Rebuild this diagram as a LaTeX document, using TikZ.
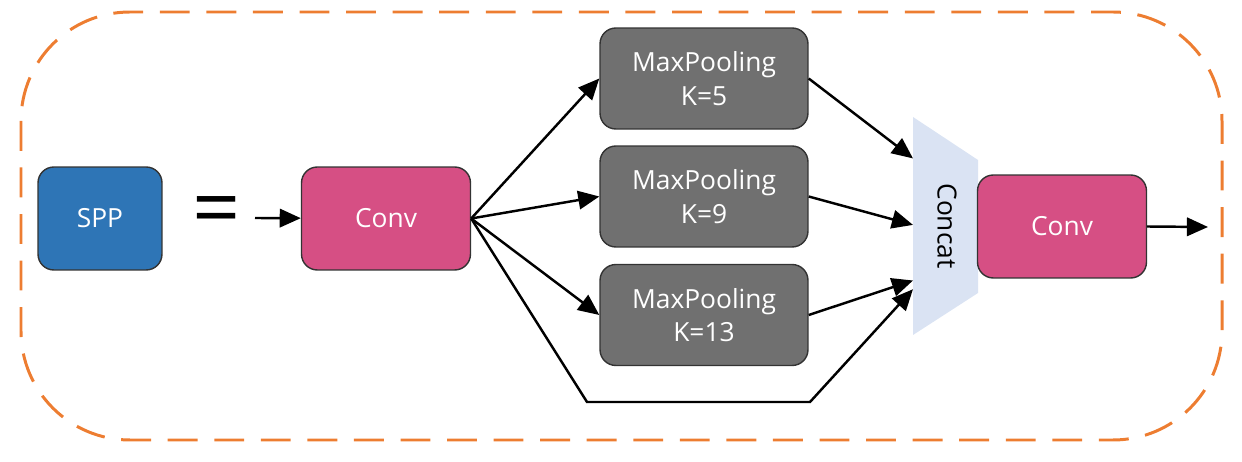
\documentclass[tikz,border=0pt]{standalone}
\usepackage{fontspec}
\setmainfont{Open Sans}
\usetikzlibrary{arrows.meta,positioning,calc}
\definecolor{sppblue}{HTML}{2E75B6}
\definecolor{convpink}{HTML}{D64F84}
\definecolor{poolgray}{HTML}{707070}
\definecolor{catblue}{HTML}{DAE3F3}
\definecolor{frameorange}{HTML}{ED7D31}
\tikzset{
  blk/.style={draw=black!80, line width=0.8pt, rounded corners=9pt, align=center, text=white, font=\fontsize{15}{19}\selectfont},
  conv/.style={blk, fill=convpink, minimum width=3.38cm, minimum height=2.06cm},
  pool/.style={blk, fill=poolgray, minimum width=4.16cm, minimum height=2.02cm},
  arr/.style={-{Triangle[length=12pt, width=10.5pt]}, line width=1.4pt}
}

\begin{document}
\begin{tikzpicture}[x=0.02cm, y=-0.02cm]
  \useasboundingbox (0,0) rectangle (1242,462);
  % outer frame
  \draw[frameorange, line width=1.7pt, dash pattern=on 17pt off 9.5pt, rounded corners=62pt] (21,12) rectangle (1222,440);
  \node[blk, fill=sppblue, minimum width=2.48cm, minimum height=2.06cm] (spp) at (100,218.5) {SPP};
  \node[font=\fontsize{48}{48}\selectfont, inner sep=0pt] (eq) at (217,217) {=};
  \coordinate (in) at (255,218);
  \node[conv] (c1) at (386,218.5) {Conv};
  \node[pool] (mp1) at (704,78.5) {MaxPooling\\K=5};
  \node[pool] (mp2) at (704,196.5) {MaxPooling\\K=9};
  \node[pool] (mp3) at (704,315) {MaxPooling\\K=13};
  % concat block
  \coordinate (ctl) at (913,117);
  \coordinate (cbl) at (913,335);
  \coordinate (ctr) at (978,160);
  \coordinate (cbr) at (978,293);
  \fill[catblue] (ctl) -- (ctr) -- (cbr) -- (cbl) -- cycle;
  \node[rotate=-90, font=\fontsize{15}{19}\selectfont] (cat) at (947,226) {Concat};
  \node[conv] (c2) at (1062,226.5) {Conv};
  \coordinate (out) at (1208,227);
  \coordinate (byl) at (587,402);
  \coordinate (byr) at (810,402);
  \draw[arr] (in) -- (c1);
  \draw[arr] (c1.east) -- (mp1.west);
  \draw[arr] (c1.east) -- (mp2.west);
  \draw[arr] (c1.east) -- (mp3.west);
  \draw[arr] (c1.east) -- (byl) -- (byr) -- ($(ctl)!0.79!(cbl)$);
  \draw[arr] (mp1.east) -- ($(ctl)!0.19!(cbl)$);
  \draw[arr] (mp2.east) -- ($(ctl)!0.495!(cbl)$);
  \draw[arr] (mp3.east) -- ($(ctl)!0.75!(cbl)$);
  \draw[arr] (c2.east) -- (out);
\end{tikzpicture}
\end{document}
